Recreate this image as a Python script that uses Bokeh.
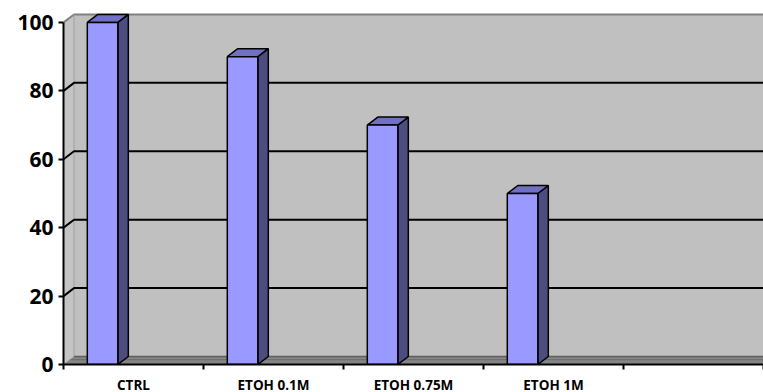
from bokeh.plotting import figure
from bokeh.models import Range1d, FixedTicker
from bokeh.embed import file_html
from bokeh.resources import INLINE

# Data
categories = ["CTRL", "ETOH 0.1M", "ETOH 0.75M", "ETOH 1M", ""]
values = [100, 90, 70, 50]
y_ticks = [0, 20, 40, 60, 80, 100]

# 3D look: oblique depth offsets (x in category units, y in value units)
DX = 0.075
DY = 2.34
BAR_OFF = 0.17
BAR_W = 0.218
N = len(categories)
YMAX = 100

p = figure(frame_width=700, frame_height=354, output_backend="svg", toolbar_location=None,
           x_range=Range1d(0, N), y_range=Range1d(0, 103.5),
           min_border_left=63, min_border_right=0, min_border_top=10,
           min_border_bottom=28)
p.outline_line_color = None
p.grid.visible = False
p.background_fill_color = "white"

# back wall, side wall and floor
p.quad(left=DX, right=N, bottom=DY, top=YMAX + DY, fill_color="#C0C0C0", line_color=None)
p.patch([0, DX, DX, 0], [0, DY, YMAX + DY, YMAX], fill_color="#C4C4C4", line_color=None)
p.line([0, DX, N], [YMAX, YMAX + DY, YMAX + DY], line_color="#808080", line_width=2)
p.line([DX, DX], [DY, YMAX + DY], line_color="#A0A0A0", line_width=1)

for v in y_ticks[1:-1]:
    p.line([0, DX, N], [v, v + DY, v + DY], line_color="black", line_width=2)

p.patch([0, DX, N, N], [0, DY, DY, 0], fill_color="#858585", line_color=None)
p.line([DX, N], [DY, DY], line_color="#5E5E5E", line_width=1.5)
p.line([DX * 0.6, N], [DY * 0.6, DY * 0.6], line_color="#6A6A6A", line_width=1)
p.line([0, DX], [0, DY], line_color="#9A9A9A", line_width=1)

# bars: front, side and top faces
front_l = [i + BAR_OFF for i in range(len(values))]
front_r = [x + BAR_W for x in front_l]

side_xs = [[r, r + DX, r + DX, r] for r in front_r]
side_ys = [[0, DY, v + DY, v] for v in values]
top_xs = [[l, l + DX, r + DX, r] for l, r in zip(front_l, front_r)]
top_ys = [[v, v + DY, v + DY, v] for v in values]

p.patches(side_xs, side_ys, fill_color="#4D4D80", line_color="black", line_width=1.5)
p.patches(top_xs, top_ys, fill_color="#7070C4", line_color="black", line_width=1.5)
p.quad(left=front_l, right=front_r, bottom=0, top=values,
       fill_color="#9999FF", line_color="black", line_width=1.5)

# y axis
ya = p.yaxis[0]
ya.ticker = FixedTicker(ticks=y_ticks, minor_ticks=[])
ya.bounds = (0, YMAX)
ya.axis_line_width = 2
ya.axis_line_color = "black"
ya.major_tick_out = 5
ya.major_tick_in = 0
ya.major_tick_line_width = 2
ya.major_label_standoff = 5
ya.major_label_text_font = "Open Sans"
ya.major_label_text_font_style = "bold"
ya.major_label_text_font_size = "21px"
ya.major_label_text_color = "black"

# x axis: category boundaries as ticks, names at centres
xa = p.xaxis[0]
centers = [i + 0.5 for i in range(N)]
xa.ticker = FixedTicker(ticks=centers, minor_ticks=list(range(N + 1)))
xa.major_label_overrides = {c: name for c, name in zip(centers, categories)}
xa.axis_line_width = 2
xa.axis_line_color = "black"
xa.major_tick_line_color = None
xa.major_tick_out = 5
xa.major_tick_in = 0
xa.minor_tick_out = 5
xa.minor_tick_in = 0
xa.minor_tick_line_width = 2
xa.minor_tick_line_color = "black"
xa.major_label_standoff = 6
xa.major_label_text_font = "Open Sans"
xa.major_label_text_font_style = "bold"
xa.major_label_text_font_size = "13.5px"
xa.major_label_text_color = "black"

open("out.html", "w").write(file_html(p, INLINE))
